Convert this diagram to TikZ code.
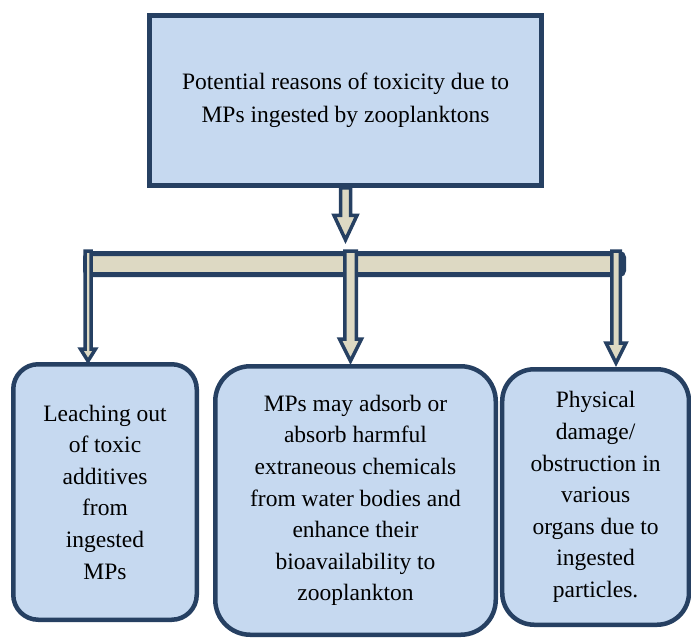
\documentclass[tikz,border=0pt]{standalone}
\usepackage{fontspec}
\setmainfont{Liberation Serif}
\usetikzlibrary{calc}
\definecolor{boxB}{RGB}{198,217,240}
\definecolor{lineN}{RGB}{38,64,98}
\definecolor{barY}{RGB}{221,217,195}

\tikzset{
  topbox/.style={draw=lineN,line width=4.7pt,fill=boxB,minimum width=392pt,minimum height=170pt,
    inner sep=0pt,align=center,font=\fontsize{23.5}{33}\selectfont},
  reasonbox/.style={draw=lineN,line width=4.5pt,fill=boxB,inner sep=0pt,align=center,
    font=\fontsize{23.5}{31.6}\selectfont},
  barbox/.style={draw=lineN,fill=barY,line width=5pt,inner sep=0pt},
  arrowbody/.style={draw=lineN,fill=barY,line width=3.5pt,line join=miter}
}
% block arrow: top, tip, shaft half width, head half width, head length
\newcommand{\blockarrow}[5]{%
  \draw[arrowbody] ($(#1)+(-#3,0)$) -- ($(#2)+(-#3,-#5)$) -- ($(#2)+(-#4,-#5)$) -- (#2)
    -- ($(#2)+(#4,-#5)$) -- ($(#2)+(#3,-#5)$) -- ($(#1)+(#3,0)$) -- cycle;}

\begin{document}
\begin{tikzpicture}[x=1pt,y=-1pt]
\useasboundingbox (0,0) rectangle (691,638);

\node[topbox] (top) at (345.5,100.5) {Potential reasons of toxicity due to\\MPs ingested by zooplanktons};
\node[barbox,minimum width=538pt,minimum height=21pt,rounded corners=4pt] (bar) at (354.5,264) {};

\node[reasonbox,minimum width=183.5pt,minimum height=255.5pt,rounded corners=25pt] (leach) at (105,492)
  {Leaching out\\of toxic\\additives\\from\\ingested\\MPs};
\node[reasonbox,minimum width=280.5pt,minimum height=268.5pt,rounded corners=35pt] (adsorb) at (355.5,500.5)
  {MPs may adsorb or\\absorb harmful\\extraneous chemicals\\from water bodies and\\enhance their\\bioavailability to\\zooplankton};
\node[reasonbox,minimum width=186.75pt,minimum height=255.5pt,rounded corners=32pt] (damage) at (595.6,497)
  {Physical\\damage/\\obstruction in\\various\\organs due to\\ingested\\particles.};

% arrow ends
\coordinate (tipT) at ($(top.south)+(0,52)$);
\coordinate (tipL) at (88,361);
\coordinate (tipM) at (350.5,361);
\coordinate (tipR) at (616,363);
\coordinate (baseL) at (bar.north -| tipL);
\coordinate (baseM) at (bar.north -| tipM);
\coordinate (baseR) at (bar.north -| tipR);

\blockarrow{top.south}{tipT}{5}{11.5}{24.5}
\blockarrow{baseL}{tipL}{3}{7.5}{12}
\blockarrow{baseM}{tipM}{5.75}{11}{22}
\blockarrow{baseR}{tipR}{4.25}{10}{20}
\end{tikzpicture}
\end{document}
